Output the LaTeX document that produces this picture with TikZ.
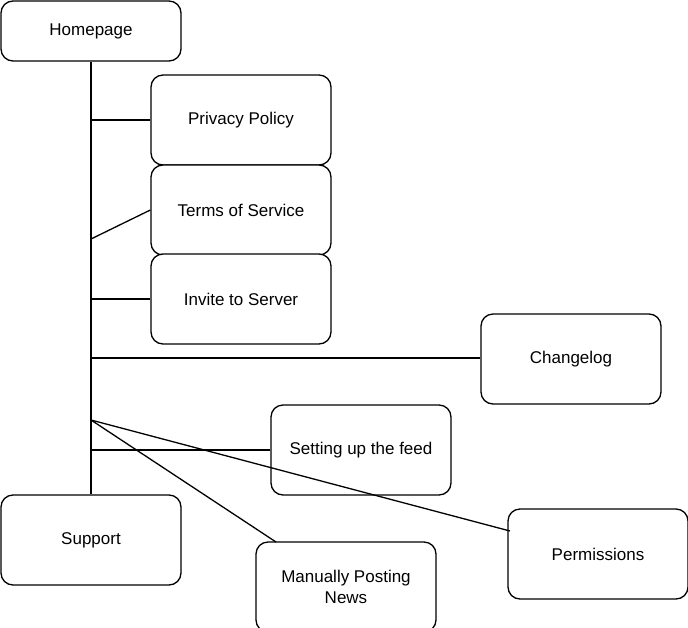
\documentclass[tikz,border=0pt]{standalone}
\usepackage{fontspec}
\setmainfont{Liberation Sans}
\begin{document}
\begin{tikzpicture}[x=1pt,y=-1pt,
  box/.style={draw=black, line width=1.3pt, rounded corners=12pt, fill=white,
    minimum width=180pt, minimum height=90pt, inner sep=0pt, align=center,
    font=\fontsize{17}{21}\selectfont},
  link/.style={draw=black, line width=1.3pt}]
\useasboundingbox (0,0) rectangle (688,627);
\fill[white] (0,0) rectangle (688,627);
% nodes
\node[box, minimum height=60pt] (home) at (91,31) {Homepage};
\node[box] (privacy) at (241,120) {Privacy Policy};
\node[box] (terms) at (241,210) {Terms of Service};
\node[box] (invite) at (241,299) {Invite to Server};
\node[box] (change) at (571,359) {Changelog};
\node[box] (feed) at (361,450) {Setting up the feed};
\node[box] (support) at (91,540) {Support};
\node[box] (manual) at (346,587) {Manually Posting\\News};
\node[box] (perm) at (598,554) {Permissions};
% spine points
\coordinate (s1) at (91,120);
\coordinate (s2) at (91,239);
\coordinate (s3) at (91,299);
\coordinate (s4) at (91,358);
\coordinate (s5) at (91,420);
\coordinate (s6) at (91,450);
\coordinate (mEnd) at (276,542);
\coordinate (pEnd) at (510,531);
% connectors
\draw[link] (home.south) -- (support.north);
\draw[link] (s1) -- (privacy.west);
\draw[link] (s2) -- (terms.west);
\draw[link] (s3) -- (invite.west);
\draw[link] (s4) -- (change.west |- s4);
\draw[link] (s6) -- (feed.west);
\draw[link] (s5) -- (mEnd);
\draw[link] (s5) -- (pEnd);
\end{tikzpicture}
\end{document}
